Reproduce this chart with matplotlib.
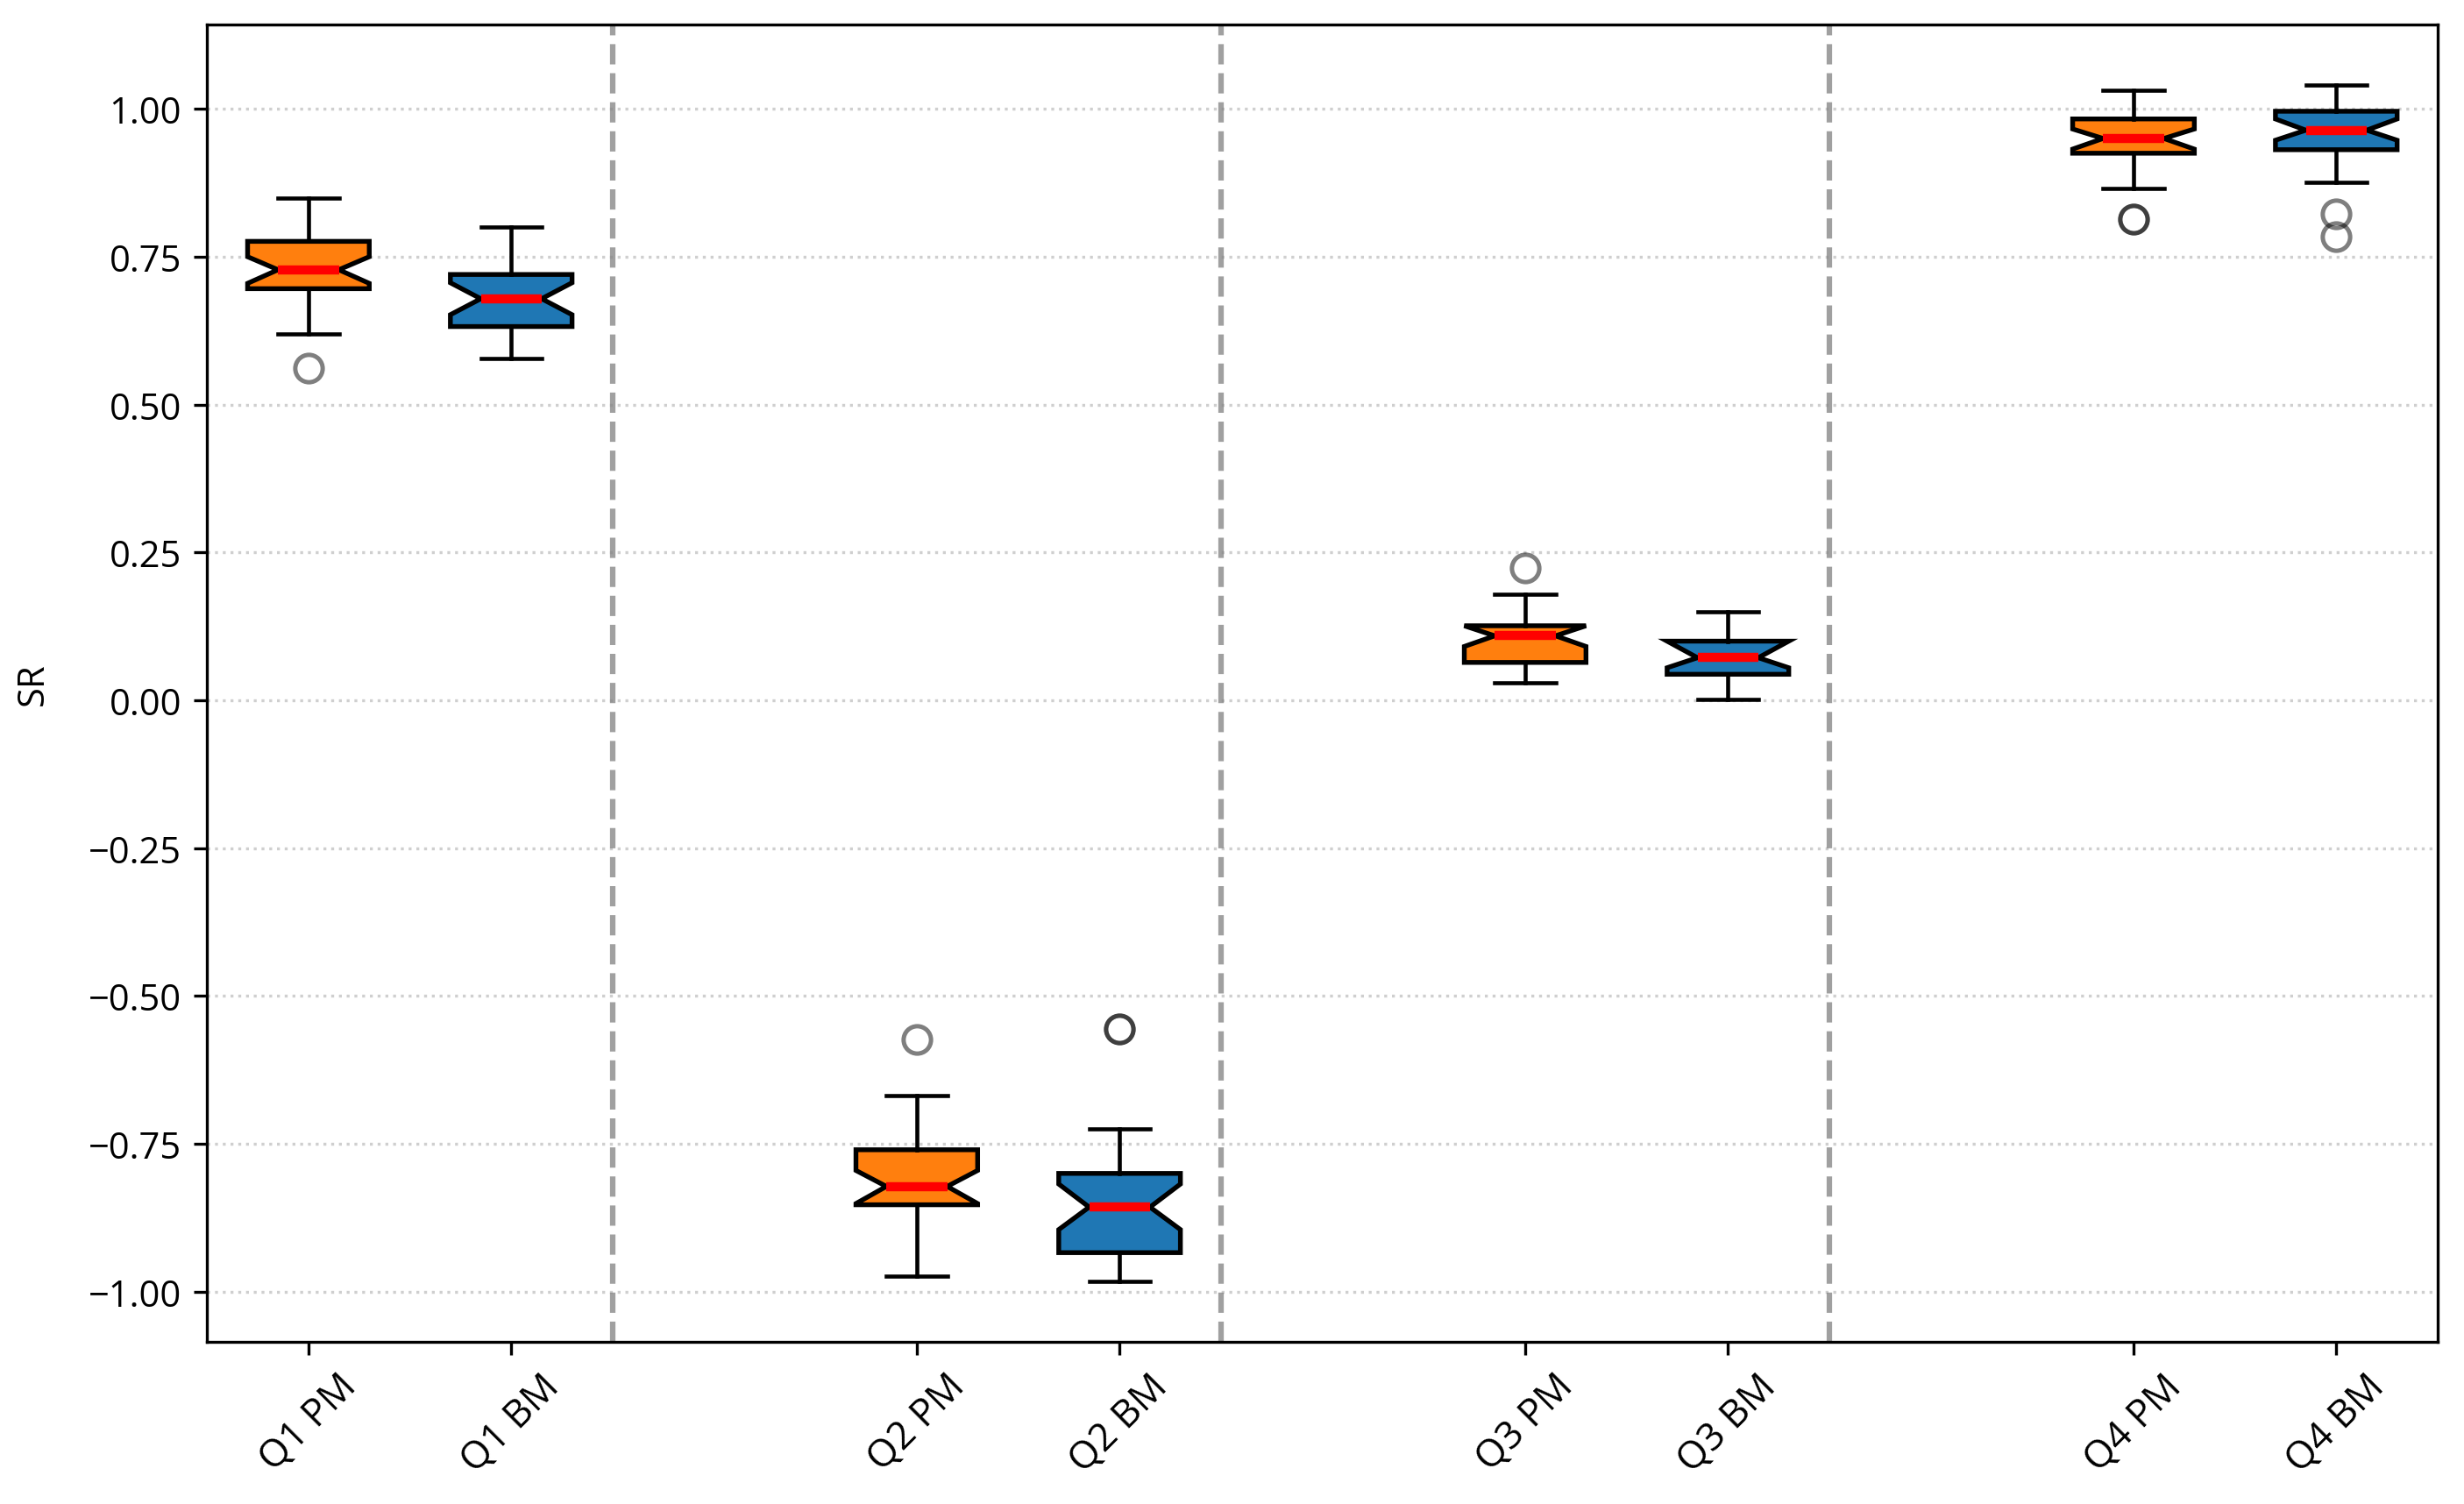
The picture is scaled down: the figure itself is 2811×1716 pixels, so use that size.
import matplotlib.pyplot as plt

plt.rcParams['font.family'] = ['Open Sans', 'DejaVu Sans']

# Box statistics (SR per quarter, PM vs BM)
labels = ['Q1 PM', 'Q1 BM', 'Q2 PM', 'Q2 BM', 'Q3 PM', 'Q3 BM', 'Q4 PM', 'Q4 BM']
positions = [1, 2, 4, 5, 7, 8, 10, 11]
dividers = [2.5, 5.5, 8.5]

whislo = [0.620, 0.578, -0.974, -0.983, 0.029, 0.001, 0.866, 0.876]
q1 = [0.696, 0.632, -0.853, -0.934, 0.064, 0.044, 0.925, 0.931]
cilo = [0.705, 0.652, -0.851, -0.895, 0.091, 0.055, 0.932, 0.947]
med = [0.728, 0.679, -0.822, -0.857, 0.109, 0.072, 0.950, 0.964]
cihi = [0.750, 0.706, -0.795, -0.818, 0.126, 0.100, 0.966, 0.983]
q3 = [0.776, 0.720, -0.760, -0.800, 0.126, 0.100, 0.983, 0.996]
whishi = [0.849, 0.801, -0.668, -0.725, 0.179, 0.150, 1.032, 1.041]
fliers = [[0.562], [], [-0.574], [-0.556, -0.556], [0.224], [], [0.813, 0.813], [0.823, 0.784]]

colors = ['#ff7f0e', '#1f77b4'] * 4

stats = []
for i in range(len(labels)):
    stats.append({
        'label': labels[i],
        'whislo': whislo[i], 'q1': q1[i], 'cilo': cilo[i], 'med': med[i],
        'cihi': cihi[i], 'q3': q3[i], 'whishi': whishi[i], 'fliers': fliers[i],
    })

fig, ax = plt.subplots(figsize=(9.373, 5.723), dpi=300)
fig.subplots_adjust(left=0.084, right=0.989, top=0.983, bottom=0.108)

bp = ax.bxp(
    stats,
    positions=positions,
    widths=0.6,
    shownotches=True,
    patch_artist=True,
    boxprops=dict(linewidth=1.3, edgecolor='black'),
    whiskerprops=dict(linewidth=1.1),
    capprops=dict(linewidth=1.1),
    medianprops=dict(color='red', linewidth=2.5),
    flierprops=dict(marker='o', markerfacecolor='none', markeredgecolor='black',
                    markersize=7.5, markeredgewidth=1.2, alpha=0.5),
)

for patch, c in zip(bp['boxes'], colors):
    patch.set_facecolor(c)

for d in dividers:
    ax.axvline(d, color='gray', linestyle='--', linewidth=1.5, alpha=0.75)

ax.set_xlim(0.5, 11.5)
ax.set_ylabel('SR', fontsize=10, labelpad=10)
ax.tick_params(axis='y', labelsize=10)
ax.tick_params(axis='x', labelsize=10.5)
plt.setp(ax.get_xticklabels(), rotation=45)
ax.grid(axis='y', linestyle=':', alpha=0.6)

fig.savefig('out.png', dpi=300)
